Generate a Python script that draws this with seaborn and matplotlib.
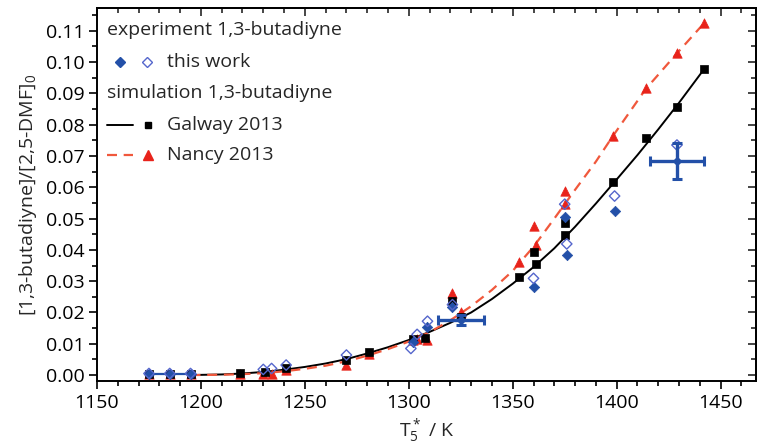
import numpy as np
import pandas as pd
import matplotlib
matplotlib.use("Agg")
import matplotlib.pyplot as plt
from matplotlib.ticker import MultipleLocator
import seaborn as sns

# ---- simulation curves (model predictions) ----
galway_curve_T = [1195, 1210, 1220, 1230, 1240, 1250, 1260, 1270, 1280, 1290, 1300, 1310,
                  1320, 1330, 1340, 1350, 1360, 1370, 1380, 1390, 1400, 1410, 1420, 1430, 1442]
galway_curve_y = [0.0000, 0.0002, 0.0005, 0.0010, 0.0017, 0.0026, 0.0037, 0.0051, 0.0069, 0.0089,
                  0.0112, 0.0138, 0.0167, 0.0200, 0.0243, 0.0292, 0.0345, 0.0405, 0.0474, 0.0548,
                  0.0625, 0.0703, 0.0785, 0.0870, 0.0977]
nancy_curve_T = [1195, 1210, 1220, 1230, 1240, 1250, 1260, 1270, 1280, 1290, 1300, 1310,
                 1320, 1330, 1340, 1350, 1360, 1370, 1380, 1390, 1398, 1414, 1429, 1442]
nancy_curve_y = [0.0000, 0.0001, 0.0003, 0.0006, 0.0012, 0.0020, 0.0030, 0.0044, 0.0062, 0.0083,
                 0.0107, 0.0137, 0.0175, 0.0220, 0.0272, 0.0333, 0.0410, 0.0500, 0.0592, 0.0682,
                 0.0762, 0.0914, 0.1028, 0.1124]

# ---- simulated values at the experimental conditions ----
galway_T = [1175, 1185, 1195, 1219, 1231, 1241, 1270, 1281, 1302, 1308, 1321, 1325,
            1353, 1360, 1361, 1375, 1375, 1398, 1414, 1429, 1442]
galway_y = [0.0003, 0.0003, 0.0003, 0.0007, 0.0009, 0.0021, 0.0048, 0.0074, 0.0115, 0.0117,
            0.0237, 0.0184, 0.0314, 0.0394, 0.0355, 0.0487, 0.0447, 0.0618, 0.0759, 0.0855, 0.0977]
nancy_T = [1175, 1185, 1195, 1219, 1230, 1234, 1241, 1270, 1281, 1302, 1304, 1309, 1321,
           1325, 1353, 1360, 1361, 1375, 1375, 1398, 1414, 1429, 1442]
nancy_y = [0.0002, 0.0002, 0.0002, 0.0002, 0.0005, 0.0005, 0.0016, 0.0032, 0.0067, 0.0112,
           0.0115, 0.0112, 0.0263, 0.0200, 0.0362, 0.0476, 0.0415, 0.0589, 0.0546, 0.0764,
           0.0916, 0.1028, 0.1124]

# ---- experiment (this work) ----
exp_filled_T = [1175, 1185, 1195, 1302, 1309, 1321, 1360, 1376, 1375, 1399]
exp_filled_y = [0.0003, 0.0003, 0.0003, 0.0105, 0.0154, 0.0218, 0.0280, 0.0383, 0.0506, 0.0525]
exp_open_T = [1175, 1185, 1195, 1230, 1234, 1241, 1270, 1301, 1304, 1309, 1321, 1360,
              1376, 1375, 1399, 1429]
exp_open_y = [0.0005, 0.0005, 0.0005, 0.0018, 0.0021, 0.0032, 0.0064, 0.0085, 0.0130,
              0.0172, 0.0225, 0.0309, 0.0419, 0.0546, 0.0572, 0.0735]
# representative uncertainties
err_T = [1325, 1429]
err_y = [0.0176, 0.0684]
err_dT = [11.0, 13.0]
err_dy = [0.0015, 0.0058]

x_ticks = [1150, 1200, 1250, 1300, 1350, 1400, 1450]
y_ticks = [0.00, 0.01, 0.02, 0.03, 0.04, 0.05, 0.06, 0.07, 0.08, 0.09, 0.10, 0.11]

BLUE = "#2350a8"
BLUE_OPEN = "#5566cc"
RED = "#e8231b"
RED_LINE = "#f0583c"

sns.set_theme(style="ticks")
plt.rcParams["font.family"] = ["Open Sans", "DejaVu Sans"]
plt.rcParams["mathtext.fontset"] = "custom"
plt.rcParams["mathtext.rm"] = "Open Sans"
plt.rcParams["mathtext.it"] = "Open Sans"

fig = plt.figure(figsize=(7.57, 4.46), dpi=100)
ax = fig.add_axes([0.1281, 0.1457, 0.8705, 0.8365])

gal_curve = pd.DataFrame({"T": galway_curve_T, "y": galway_curve_y})
nan_curve = pd.DataFrame({"T": nancy_curve_T, "y": nancy_curve_y})
sns.lineplot(data=gal_curve, x="T", y="y", color="black", lw=1.4, ax=ax, zorder=2)
sns.lineplot(data=nan_curve, x="T", y="y", color=RED_LINE, lw=1.6, ax=ax, zorder=2,
             dashes=False, linestyle=(0, (4.5, 3)))

# connecting line of the low-temperature experimental points
low = [(t, v) for t, v in zip(exp_filled_T, exp_filled_y) if t < 1200]
ax.plot([p[0] for p in low], [p[1] for p in low], color=BLUE, lw=1.6, zorder=3)

sns.scatterplot(x=nancy_T, y=nancy_y, marker="^", s=46, color=RED, edgecolor=RED,
                linewidth=0.5, ax=ax, zorder=4)
sns.scatterplot(x=galway_T, y=galway_y, marker="s", s=26, color="black", edgecolor="black",
                linewidth=0.5, ax=ax, zorder=5)
sns.scatterplot(x=exp_filled_T, y=exp_filled_y, marker="D", s=28, color=BLUE, edgecolor=BLUE,
                linewidth=0.5, ax=ax, zorder=6)
sns.scatterplot(x=exp_open_T, y=exp_open_y, marker="D", s=28, facecolor="none",
                edgecolor=BLUE_OPEN, linewidth=1.0, ax=ax, zorder=6)
ax.errorbar(err_T, err_y, xerr=err_dT, yerr=err_dy, fmt="D", ms=4.5, color=BLUE,
            ecolor=BLUE, elinewidth=2.4, capsize=3.5, capthick=2.2, zorder=7)

ax.set_xlim(1150, 1467)
ax.set_ylim(-0.0019, 0.1173)
ax.set_xticks(x_ticks)
ax.set_yticks(y_ticks)
ax.set_yticklabels([f"{v:.2f}" for v in y_ticks])
ax.xaxis.set_minor_locator(MultipleLocator(10))
ax.yaxis.set_minor_locator(MultipleLocator(0.005))
ax.tick_params(which="both", direction="out", top=False, right=False, labelsize=14,
               colors="black", width=1.2, pad=3)
ax.tick_params(which="major", length=6)
ax.tick_params(which="minor", length=3.5)
for s in ax.spines.values():
    s.set_linewidth(1.4)
    s.set_color("black")
    s.set_visible(True)

# inward ticks on the top and right frame
secx = ax.secondary_xaxis("top")
secx.set_xticks(x_ticks)
secx.xaxis.set_minor_locator(MultipleLocator(10))
secx.tick_params(which="both", direction="in", labeltop=False, width=1.2)
secx.tick_params(which="major", length=6)
secx.tick_params(which="minor", length=3.5)
secy = ax.secondary_yaxis("right")
secy.set_yticks(y_ticks)
secy.yaxis.set_minor_locator(MultipleLocator(0.005))
secy.tick_params(which="both", direction="in", labelright=False, width=1.2)
secy.tick_params(which="major", length=6)
secy.tick_params(which="minor", length=3.5)

ax.set_xlabel(r"T$_5^*$ / K", fontsize=14, labelpad=4)
ax.set_ylabel(r"[1,3-butadiyne]/[2,5-DMF]$_0$", fontsize=14, labelpad=5)

# legend block
tr = ax.transAxes
fs = 14
ax.text(0.015, 0.941, "experiment 1,3-butadiyne", transform=tr, fontsize=fs, va="center")
ax.plot([0.035], [0.855], marker="D", ms=5, color=BLUE, transform=tr, ls="none")
ax.plot([0.076], [0.855], marker="D", ms=5, mfc="none", mec=BLUE_OPEN, mew=1.0,
        transform=tr, ls="none")
ax.text(0.106, 0.855, "this work", transform=tr, fontsize=fs, va="center")
ax.text(0.015, 0.772, "simulation 1,3-butadiyne", transform=tr, fontsize=fs, va="center")
ax.plot([0.015, 0.055], [0.686, 0.686], color="black", lw=1.4, transform=tr)
ax.plot([0.077], [0.686], marker="s", ms=5, color="black", transform=tr, ls="none")
ax.text(0.106, 0.686, "Galway 2013", transform=tr, fontsize=fs, va="center")
ax.plot([0.015, 0.055], [0.606, 0.606], color=RED_LINE, lw=1.6, ls=(0, (4.5, 3)), transform=tr)
ax.plot([0.077], [0.606], marker="^", ms=6.5, color=RED, transform=tr, ls="none")
ax.text(0.106, 0.606, "Nancy 2013", transform=tr, fontsize=fs, va="center")

fig.savefig("out.png", dpi=100)
